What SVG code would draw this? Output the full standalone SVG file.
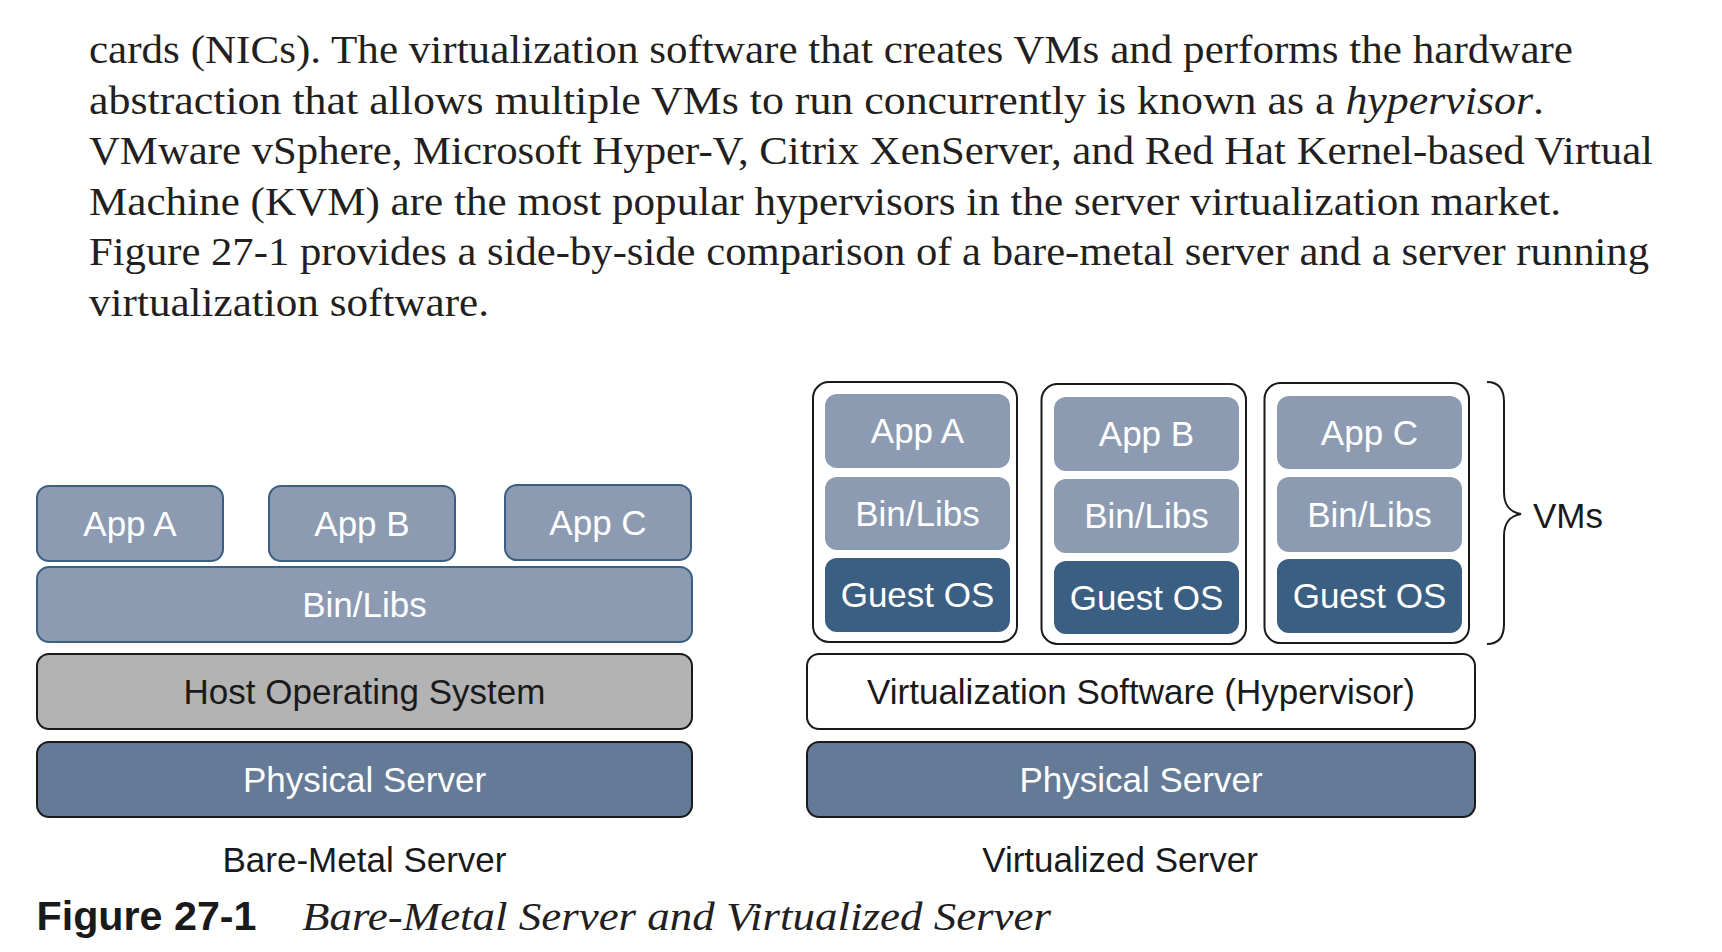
<svg xmlns="http://www.w3.org/2000/svg" width="1722" height="952" viewBox="0 0 1722 952">
<style>
.para{font-family:"Liberation Serif","Times New Roman",serif;font-size:41px;fill:#231f20}
.lbl{font-family:"Liberation Sans",Arial,sans-serif;font-size:35px;text-anchor:middle}
.w{fill:#ffffff}
.k{fill:#1a1a1a}
.app{fill:#8c9bb1;stroke:#3b5f82;stroke-width:2}
.vapp{fill:#8c9bb1}
.guest{fill:#3a5f82}
.host{fill:#b3b3b3;stroke:#1a1a1a;stroke-width:2}
.phys{fill:#657a96;stroke:#1a1a1a;stroke-width:2}
.vm{fill:#ffffff;stroke:#1a1a1a;stroke-width:2}
</style>
<rect width="1722" height="952" fill="#ffffff"/>
<g id="paragraph">
<text class="para" x="89" y="63" textLength="1484" lengthAdjust="spacingAndGlyphs">cards (NICs). The virtualization software that creates VMs and performs the hardware</text>
<text class="para" x="89" y="113.6" textLength="1455" lengthAdjust="spacingAndGlyphs">abstraction that allows multiple VMs to run concurrently is known as a <tspan font-style="italic">hypervisor</tspan>.</text>
<text class="para" x="89" y="164.2" textLength="1564" lengthAdjust="spacingAndGlyphs">VMware vSphere, Microsoft Hyper-V, Citrix XenServer, and Red Hat Kernel-based Virtual</text>
<text class="para" x="89" y="214.8" textLength="1472" lengthAdjust="spacingAndGlyphs">Machine (KVM) are the most popular hypervisors in the server virtualization market.</text>
<text class="para" x="89" y="265.4" textLength="1560" lengthAdjust="spacingAndGlyphs">Figure 27-1 provides a side-by-side comparison of a bare-metal server and a server running</text>
<text class="para" x="89" y="316" textLength="400" lengthAdjust="spacingAndGlyphs">virtualization software.</text>
</g>
<g id="connectors"></g>
<g id="bm-appA"><rect class="app" x="37" y="486" width="186" height="75" rx="12"/><text class="lbl w" x="130" y="535.5">App A</text></g>
<g id="bm-appB"><rect class="app" x="269" y="486" width="186" height="75" rx="12"/><text class="lbl w" x="362" y="535.5">App B</text></g>
<g id="bm-appC"><rect class="app" x="505" y="485" width="186" height="75" rx="12"/><text class="lbl w" x="598" y="534.5">App C</text></g>
<g id="bm-bins"><rect class="app" x="37" y="567" width="655" height="75" rx="12"/><text class="lbl w" x="364.5" y="616.5">Bin/Libs</text></g>
<g id="bm-host"><rect class="host" x="37" y="654" width="655" height="75" rx="12"/><text class="lbl k" x="364.5" y="703.5">Host Operating System</text></g>
<g id="bm-phys"><rect class="phys" x="37" y="742" width="655" height="75" rx="12"/><text class="lbl w" x="364.5" y="791.5">Physical Server</text></g>
<g id="bm-label"><text class="lbl k" x="364.5" y="872">Bare-Metal Server</text></g>
<g id="vm1">
<rect class="vm" x="813" y="382" width="204" height="260" rx="16"/>
<rect class="vapp" x="825" y="394" width="185" height="74" rx="12"/><text class="lbl w" x="917.5" y="443">App A</text>
<rect class="vapp" x="825" y="477" width="185" height="73" rx="12"/><text class="lbl w" x="917.5" y="525.5">Bin/Libs</text>
<rect class="guest" x="825" y="558" width="185" height="74" rx="12"/><text class="lbl w" x="917.5" y="607">Guest OS</text>
</g>
<g id="vm2">
<rect class="vm" x="1041.5" y="384" width="204.5" height="260" rx="16"/>
<rect class="vapp" x="1054" y="397" width="185" height="74" rx="12"/><text class="lbl w" x="1146.5" y="446">App B</text>
<rect class="vapp" x="1054" y="479" width="185" height="74" rx="12"/><text class="lbl w" x="1146.5" y="528">Bin/Libs</text>
<rect class="guest" x="1054" y="561" width="185" height="73" rx="12"/><text class="lbl w" x="1146.5" y="609.5">Guest OS</text>
</g>
<g id="vm3">
<rect class="vm" x="1264.5" y="383" width="204.5" height="260" rx="16"/>
<rect class="vapp" x="1277" y="396" width="185" height="73" rx="12"/><text class="lbl w" x="1369.5" y="444.5">App C</text>
<rect class="vapp" x="1277" y="477" width="185" height="75" rx="12"/><text class="lbl w" x="1369.5" y="526.5">Bin/Libs</text>
<rect class="guest" x="1277" y="559" width="185" height="74" rx="12"/><text class="lbl w" x="1369.5" y="608">Guest OS</text>
</g>
<g id="vms-brace">
<path d="M1487,382 C1500,382 1504,390 1504,402 L1504,492 C1504,506 1510,512 1521,514 C1510,516 1504,522 1504,536 L1504,624 C1504,636 1500,644 1487,644" fill="none" stroke="#1a1a1a" stroke-width="2"/>
<text class="lbl k" x="1533" y="528" text-anchor="start" style="text-anchor:start">VMs</text>
</g>
<g id="hypervisor"><rect class="vm" x="807" y="654" width="668" height="75" rx="12"/><text class="lbl k" x="1141" y="703.5">Virtualization Software (Hypervisor)</text></g>
<g id="v-phys"><rect class="phys" x="807" y="742" width="668" height="75" rx="12"/><text class="lbl w" x="1141" y="791.5">Physical Server</text></g>
<g id="v-label"><text class="lbl k" x="1120" y="872">Virtualized Server</text></g>
<g id="caption">
<text x="36.5" y="930" font-family="'Liberation Sans',Arial,sans-serif" font-size="40" font-weight="bold" fill="#1a1a1a" textLength="220" lengthAdjust="spacingAndGlyphs">Figure 27-1</text>
<text x="302" y="930" font-family="'Liberation Serif','Times New Roman',serif" font-size="41" font-style="italic" fill="#231f20" textLength="749" lengthAdjust="spacingAndGlyphs">Bare-Metal Server and Virtualized Server</text>
</g>
</svg>
